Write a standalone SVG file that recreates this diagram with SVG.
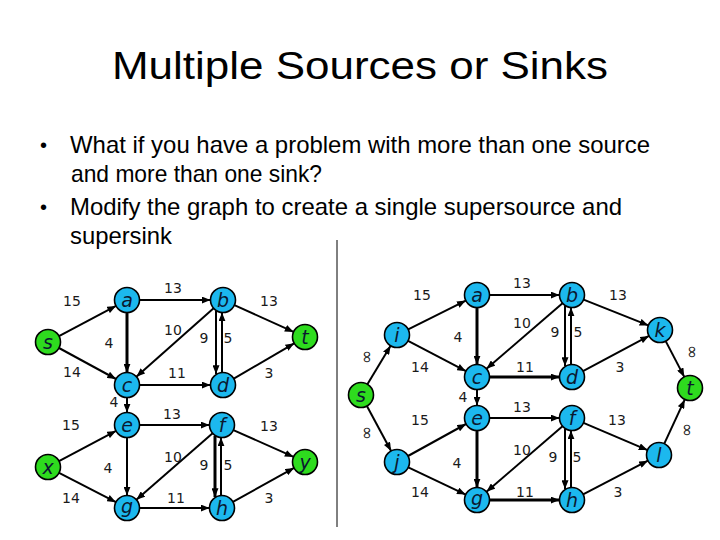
<svg xmlns="http://www.w3.org/2000/svg" width="720" height="540" viewBox="0 0 720 540">
<style>
.title{font-family:"Liberation Sans",Arial,sans-serif;font-size:38px;fill:#000}
.bul{font-family:"Liberation Sans",Arial,sans-serif;font-size:24px;fill:#000}
.dot{font-family:"Liberation Sans",Arial,sans-serif;font-size:20px;fill:#000}
.e{stroke:#000;stroke-width:2;fill:none;marker-end:url(#ah)}
.thick{stroke-width:3}
.n circle{stroke:#000;stroke-width:1.6}
.blue circle{fill:#1CB8EE}
.green circle{fill:#2EDB1E}
.n text{font-family:"DejaVu Sans",Verdana,sans-serif;font-style:italic;font-size:19px;fill:#0b1830;text-anchor:middle}
.lbl text{font-family:"DejaVu Sans",Verdana,sans-serif;font-size:14px;fill:#1a1a1a;text-anchor:middle}
.lbl text.inf{font-size:17px}
</style>
<defs>
<marker id="ah" viewBox="0 0 10 8" refX="10" refY="4" markerWidth="9" markerHeight="7" markerUnits="userSpaceOnUse" orient="auto">
<path d="M0,0 L10,4 L0,8 z" fill="#000"/>
</marker>
</defs>
<rect width="720" height="540" fill="#fff"/>
<text class="title" x="112" y="79" textLength="496" lengthAdjust="spacingAndGlyphs">Multiple Sources or Sinks</text>
<g id="bullets">
<text class="dot" x="40" y="152">•</text>
<text class="bul" x="70" y="153" textLength="580" lengthAdjust="spacingAndGlyphs">What if you have a problem with more than one source</text>
<text class="bul" x="71" y="182" textLength="251" lengthAdjust="spacingAndGlyphs">and more than one sink?</text>
<text class="dot" x="40" y="214">•</text>
<text class="bul" x="70" y="215" textLength="552" lengthAdjust="spacingAndGlyphs">Modify the graph to create a single supersource and</text>
<text class="bul" x="70" y="244" textLength="102" lengthAdjust="spacingAndGlyphs">supersink</text>
</g>
<line x1="337" y1="240" x2="337" y2="527" stroke="#000" stroke-width="1"/>
<g id="connectors">
<line class="e" x1="59" y1="336.1" x2="116" y2="305.9"/>
<line class="e" x1="59" y1="348" x2="116" y2="379"/>
<line class="e" x1="139.5" y1="300" x2="210.5" y2="300"/>
<line class="e thick" x1="127" y1="312.5" x2="127" y2="372.5"/>
<line class="e" x1="234.4" y1="305.1" x2="293.6" y2="331.9"/>
<line class="e" x1="213.6" y1="308.3" x2="136.4" y2="376.7"/>
<line class="e" x1="216" y1="311" x2="216" y2="374"/>
<line class="e" x1="222" y1="373" x2="222" y2="312.5"/>
<line class="e" x1="139.5" y1="385" x2="210.5" y2="385"/>
<line class="e" x1="233.8" y1="378.7" x2="294.2" y2="343.3"/>
<line class="e" x1="127" y1="397.5" x2="127" y2="412.5"/>
<line class="e" x1="139.5" y1="425" x2="209.5" y2="425"/>
<line class="e" x1="127" y1="437.5" x2="127" y2="495.5"/>
<line class="e" x1="59" y1="461.1" x2="116" y2="430.9"/>
<line class="e" x1="59.1" y1="472.8" x2="115.9" y2="502.2"/>
<line class="e" x1="233.4" y1="430.1" x2="293.6" y2="456.9"/>
<line class="e" x1="212.6" y1="433.2" x2="136.4" y2="499.8"/>
<line class="e thick" x1="215" y1="436" x2="215" y2="497"/>
<line class="e" x1="221" y1="496" x2="221" y2="437.5"/>
<line class="e" x1="139.5" y1="508" x2="209.5" y2="508"/>
<line class="e" x1="232.9" y1="501.9" x2="294.1" y2="467.9"/>
<line class="e" x1="367.4" y1="384.3" x2="390.6" y2="345.7"/>
<line class="e" x1="366.9" y1="406" x2="391.1" y2="451"/>
<line class="e" x1="408.2" y1="329.4" x2="465.8" y2="300.6"/>
<line class="e" x1="408.1" y1="340.8" x2="465.9" y2="371.2"/>
<line class="e" x1="408" y1="456" x2="466" y2="424"/>
<line class="e" x1="408.3" y1="467.4" x2="465.7" y2="494.6"/>
<line class="e" x1="489.5" y1="295" x2="559.5" y2="295"/>
<line class="e thick" x1="477" y1="307.5" x2="477" y2="364.5"/>
<line class="e" x1="562.5" y1="303.2" x2="486.5" y2="368.8"/>
<line class="e" x1="565" y1="306" x2="565" y2="366"/>
<line class="e" x1="571" y1="365" x2="571" y2="307.5"/>
<line class="e thick" x1="489.5" y1="377" x2="559.5" y2="377"/>
<line class="e" x1="583.6" y1="299.6" x2="648.4" y2="325.4"/>
<line class="e" x1="583" y1="371.1" x2="649" y2="335.9"/>
<line class="e" x1="665.7" y1="341.1" x2="684.3" y2="376.9"/>
<line class="e" x1="477" y1="389.5" x2="477" y2="405.5"/>
<line class="e" x1="489.5" y1="418" x2="559.5" y2="418"/>
<line class="e thick" x1="477" y1="430.5" x2="477" y2="487.5"/>
<line class="e" x1="562.5" y1="426.2" x2="486.5" y2="491.8"/>
<line class="e" x1="565" y1="429" x2="565" y2="489"/>
<line class="e" x1="571" y1="488" x2="571" y2="430.5"/>
<line class="e thick" x1="489.5" y1="500" x2="559.5" y2="500"/>
<line class="e" x1="583.5" y1="422.9" x2="647.5" y2="450.1"/>
<line class="e" x1="583.1" y1="494.3" x2="647.9" y2="460.7"/>
<line class="e" x1="664.3" y1="443.7" x2="684.7" y2="399.7"/>
</g>
<g id="labels" class="lbl">
<text x="72" y="306">15</text>
<text x="173" y="293">13</text>
<text x="269" y="306">13</text>
<text x="173" y="335">10</text>
<text x="109" y="348">4</text>
<text x="204" y="343">9</text>
<text x="228" y="343">5</text>
<text x="72" y="377">14</text>
<text x="177" y="378">11</text>
<text x="269" y="378">3</text>
<text x="114" y="407">4</text>
<text x="172" y="419">13</text>
<text x="71" y="430">15</text>
<text x="269" y="431">13</text>
<text x="173" y="462">10</text>
<text x="108" y="473">4</text>
<text x="204" y="470">9</text>
<text x="228" y="470">5</text>
<text x="71" y="503">14</text>
<text x="176" y="503">11</text>
<text x="269" y="503">3</text>
<text x="422" y="300">15</text>
<text x="522" y="288">13</text>
<text x="618" y="300">13</text>
<text x="458" y="342">4</text>
<text x="522" y="328">10</text>
<text x="555" y="337">9</text>
<text x="578" y="337">5</text>
<text x="420" y="372">14</text>
<text x="525" y="372">11</text>
<text x="620" y="372">3</text>
<text x="463" y="402">4</text>
<text x="522" y="412">13</text>
<text x="420" y="425">15</text>
<text x="617" y="425">13</text>
<text x="522" y="455">10</text>
<text x="553" y="462">9</text>
<text x="577" y="462">5</text>
<text x="457" y="468">4</text>
<text x="420" y="497">14</text>
<text x="525" y="497">11</text>
<text x="618" y="497">3</text>
<text class="inf" transform="translate(367,357) rotate(-90)" y="5">∞</text>
<text class="inf" transform="translate(367,433) rotate(-90)" y="5">∞</text>
<text class="inf" transform="translate(692,352) rotate(-90)" y="5">∞</text>
<text class="inf" transform="translate(687,430) rotate(-90)" y="5">∞</text>
</g>
<g id="L_s" class="n green"><circle cx="48" cy="342" r="12.5"/><text x="48" y="349">s</text></g>
<g id="L_a" class="n blue"><circle cx="127" cy="300" r="12.5"/><text x="127" y="307">a</text></g>
<g id="L_b" class="n blue"><circle cx="223" cy="300" r="12.5"/><text x="223" y="307">b</text></g>
<g id="L_t" class="n green"><circle cx="305" cy="337" r="12.5"/><text x="305" y="344">t</text></g>
<g id="L_c" class="n blue"><circle cx="127" cy="385" r="12.5"/><text x="127" y="392">c</text></g>
<g id="L_d" class="n blue"><circle cx="223" cy="385" r="12.5"/><text x="223" y="392">d</text></g>
<g id="L_e" class="n blue"><circle cx="127" cy="425" r="12.5"/><text x="127" y="432">e</text></g>
<g id="L_f" class="n blue"><circle cx="222" cy="425" r="12.5"/><text x="222" y="432">f</text></g>
<g id="L_x" class="n green"><circle cx="48" cy="467" r="12.5"/><text x="48" y="474">x</text></g>
<g id="L_y" class="n green"><circle cx="305" cy="462" r="12.5"/><text x="305" y="469">y</text></g>
<g id="L_g" class="n blue"><circle cx="127" cy="508" r="12.5"/><text x="127" y="513">g</text></g>
<g id="L_h" class="n blue"><circle cx="222" cy="508" r="12.5"/><text x="222" y="515">h</text></g>
<g id="R_s" class="n green"><circle cx="361" cy="395" r="12.5"/><text x="361" y="402">s</text></g>
<g id="R_i" class="n blue"><circle cx="397" cy="335" r="12.5"/><text x="397" y="342">i</text></g>
<g id="R_j" class="n blue"><circle cx="397" cy="462" r="12.5"/><text x="397" y="469">j</text></g>
<g id="R_a" class="n blue"><circle cx="477" cy="295" r="12.5"/><text x="477" y="302">a</text></g>
<g id="R_b" class="n blue"><circle cx="572" cy="295" r="12.5"/><text x="572" y="302">b</text></g>
<g id="R_c" class="n blue"><circle cx="477" cy="377" r="12.5"/><text x="477" y="384">c</text></g>
<g id="R_d" class="n blue"><circle cx="572" cy="377" r="12.5"/><text x="572" y="384">d</text></g>
<g id="R_e" class="n blue"><circle cx="477" cy="418" r="12.5"/><text x="477" y="425">e</text></g>
<g id="R_f" class="n blue"><circle cx="572" cy="418" r="12.5"/><text x="572" y="425">f</text></g>
<g id="R_g" class="n blue"><circle cx="477" cy="500" r="12.5"/><text x="477" y="505">g</text></g>
<g id="R_h" class="n blue"><circle cx="572" cy="500" r="12.5"/><text x="572" y="507">h</text></g>
<g id="R_k" class="n blue"><circle cx="660" cy="330" r="12.5"/><text x="660" y="337">k</text></g>
<g id="R_t" class="n green"><circle cx="690" cy="388" r="12.5"/><text x="690" y="395">t</text></g>
<g id="R_l" class="n blue"><circle cx="659" cy="455" r="12.5"/><text x="659" y="462">l</text></g>
</svg>
